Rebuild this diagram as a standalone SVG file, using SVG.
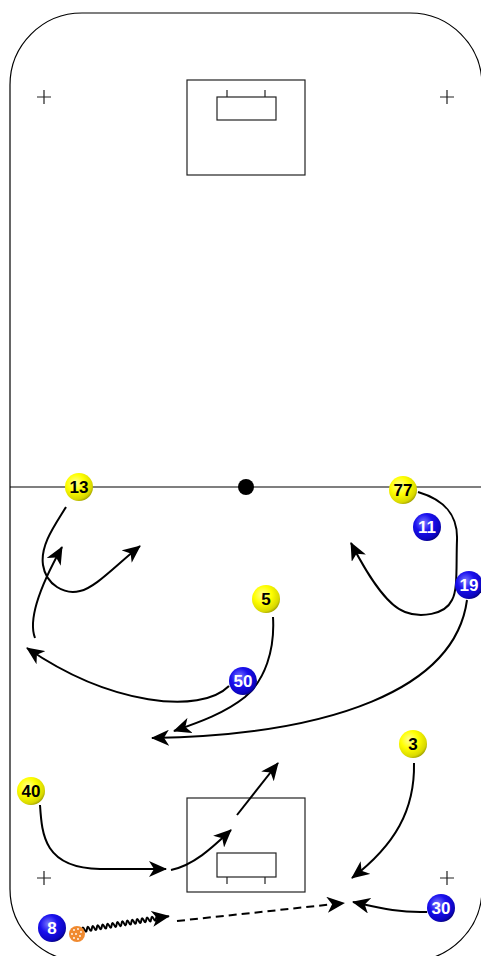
<svg xmlns="http://www.w3.org/2000/svg" width="481" height="956" viewBox="0 0 481 956">
<defs>
<style>
.line{fill:none;stroke:#000;stroke-width:1.2}
.mark{fill:none;stroke:#222;stroke-width:1.2}
.mv{fill:none;stroke:#000;stroke-width:2;marker-end:url(#ah)}
.dash{fill:none;stroke:#000;stroke-width:2;stroke-dasharray:8,5;marker-end:url(#ah)}
.num{font-family:"Liberation Sans",Arial,sans-serif;font-weight:bold;font-size:17px;text-anchor:middle}
.ny{fill:#000}
.nb{fill:#fff}
</style>
<radialGradient id="gy" cx="0.38" cy="0.35" r="0.7">
<stop offset="0" stop-color="#ffff9a"/>
<stop offset="0.45" stop-color="#ffff00"/>
<stop offset="0.85" stop-color="#d8d800"/>
<stop offset="1" stop-color="#9a9a00"/>
</radialGradient>
<radialGradient id="gb" cx="0.38" cy="0.35" r="0.7">
<stop offset="0" stop-color="#7a7aff"/>
<stop offset="0.45" stop-color="#1a10ee"/>
<stop offset="0.85" stop-color="#0c05c0"/>
<stop offset="1" stop-color="#050070"/>
</radialGradient>
<marker id="ah" markerUnits="userSpaceOnUse" markerWidth="20" markerHeight="16" refX="17" refY="8" orient="auto">
<path d="M0,0 L18,8 L0,16 L5,8 z" fill="#000"/>
</marker>
</defs>

<g id="rink">
<rect class="line" x="10" y="13" width="472" height="948" rx="72" ry="72"/>
<line class="line" x1="10" y1="487" x2="482" y2="487"/>
<circle cx="246" cy="487" r="8" fill="#000"/>
<rect class="mark" x="187" y="80" width="118" height="95"/>
<rect class="mark" x="217" y="97" width="59" height="23"/>
<line class="mark" x1="227" y1="97" x2="227" y2="90"/>
<line class="mark" x1="265" y1="97" x2="265" y2="90"/>
<rect class="mark" x="187" y="798" width="118" height="94"/>
<rect class="mark" x="217" y="853" width="59" height="24"/>
<line class="mark" x1="227" y1="877" x2="227" y2="884"/>
<line class="mark" x1="265" y1="877" x2="265" y2="884"/>
<path class="mark" d="M37,97 H51 M44,90 V104 M440,97 H454 M447,90 V104 M37,878 H51 M44,871 V885 M440,878 H454 M447,871 V885"/>
</g>

<g id="connectors">
<path class="mv" d="M66,507 C55,525 40,545 43,565 C46,585 65,595 80,591 C95,588 115,566 140,546"/>
<path class="mv" d="M35,638 C28,620 38,590 62,547"/>
<path class="mv" d="M229,686 C200,715 110,705 27,648"/>
<path class="mv" d="M273,617 C275,650 265,680 245,697 C225,713 200,722 174,731"/>
<path class="mv" d="M467,600 C455,690 330,735 152,738"/>
<path class="mv" d="M418,492 C445,500 458,515 457,540 C456,565 458,590 452,600 C445,615 420,618 405,612 C385,605 365,570 351,543"/>
<path class="mv" d="M414,763 C415,810 395,845 352,878"/>
<path class="mv" d="M427,912 C400,913 380,908 353,902"/>
<path class="mv" d="M40,805 C42,835 44,868 100,869 L166,869"/>
<path class="mv" d="M171,870 C195,865 215,845 231,830"/>
<path class="mv" d="M237,815 L278,763"/>
<path class="mv" transform="translate(82,930) rotate(-9)" d="M0,0 q1.25,-4.5 2.5,0 t2.5,0 t2.5,0 t2.5,0 t2.5,0 t2.5,0 t2.5,0 t2.5,0 t2.5,0 t2.5,0 t2.5,0 t2.5,0 t2.5,0 t2.5,0 t2.5,0 t2.5,0 t2.5,0 t2.5,0 t2.5,0 t2.5,0 t2.5,0 t2.5,0 t2.5,0 t2.5,0 t2.5,0 t2.5,0 t2.5,0 t2.5,0 t2.5,0 t2.5,0 t2.5,0 t2.5,0 l8,0"/>
<path class="dash" d="M177,921 L344,903"/>
</g>

<g id="p13"><circle cx="79" cy="487" r="14" fill="url(#gy)"/><text class="num ny" x="79" y="493">13</text></g>
<g id="p77"><circle cx="403" cy="490" r="14" fill="url(#gy)"/><text class="num ny" x="403" y="496">77</text></g>
<g id="p11"><circle cx="427" cy="527" r="14" fill="url(#gb)"/><text class="num nb" x="427" y="533">11</text></g>
<g id="p19"><circle cx="469" cy="585" r="14" fill="url(#gb)"/><text class="num nb" x="469" y="591">19</text></g>
<g id="p5"><circle cx="266" cy="599" r="14" fill="url(#gy)"/><text class="num ny" x="266" y="605">5</text></g>
<g id="p50"><circle cx="243" cy="681" r="14" fill="url(#gb)"/><text class="num nb" x="243" y="687">50</text></g>
<g id="p3"><circle cx="413" cy="744" r="14" fill="url(#gy)"/><text class="num ny" x="413" y="750">3</text></g>
<g id="p40"><circle cx="31" cy="791" r="14" fill="url(#gy)"/><text class="num ny" x="31" y="797">40</text></g>
<g id="p30"><circle cx="441" cy="908" r="14" fill="url(#gb)"/><text class="num nb" x="441" y="914">30</text></g>
<g id="p8"><circle cx="52" cy="928" r="14" fill="url(#gb)"/><text class="num nb" x="52" y="934">8</text></g>
<g id="ball">
<circle cx="77" cy="934" r="8" fill="#f08a30"/>
<g fill="#fff">
<circle cx="74" cy="930" r="0.9"/><circle cx="78" cy="929" r="0.9"/><circle cx="81" cy="932" r="0.9"/>
<circle cx="72" cy="934" r="0.9"/><circle cx="76" cy="934" r="0.9"/><circle cx="80" cy="936" r="0.9"/>
<circle cx="74" cy="938" r="0.9"/><circle cx="78" cy="939" r="0.9"/>
</g>
</g>
</svg>
